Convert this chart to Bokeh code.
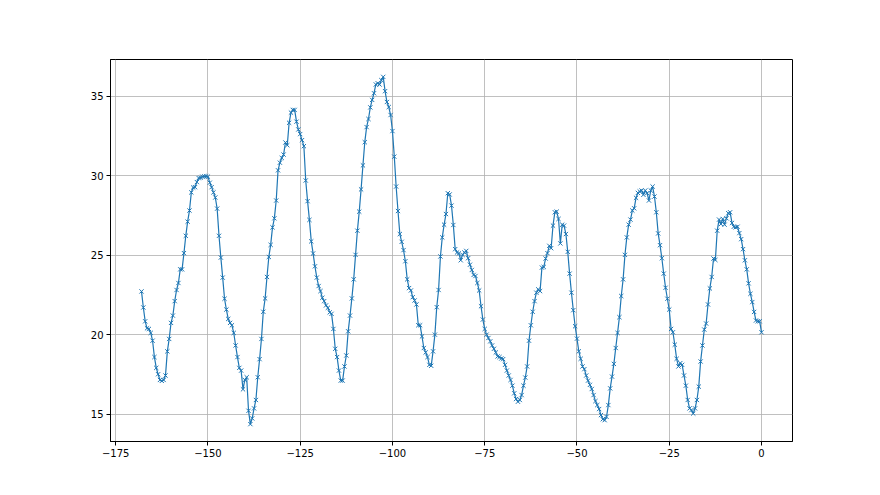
from bokeh.plotting import figure
from bokeh.models import FixedTicker, Range1d, ColumnDataSource
from bokeh.embed import file_html
from bokeh.resources import INLINE

# x positions: time steps from -168 to 0, half-unit spacing
x_start = -168.0
x_step = 0.5

y_values = [
    # -168 ... (first trough and peak near -151)
    22.72, 21.71, 20.84, 20.40, 20.36, 20.11, 19.62, 18.59, 17.91, 17.51,
    17.15, 17.09, 17.15, 17.43, 18.95, 19.73, 20.74, 21.20, 22.11, 22.81,
    23.25, 24.11, 24.11, 25.13, 26.22, 27.11, 27.81, 28.95, 29.26, 29.28,
    29.60, 29.85, 29.87, 29.94, 29.96, 29.96, 29.94, 29.56, 29.28, 28.95,
    28.63, 27.93, 26.22, 24.85, 23.59, 22.26, 21.58, 20.99, 20.74, 20.59,
    20.11, 19.32, 18.59, 17.91, 17.74, 16.56, 17.15,
    # trough near -139, peak near -127
    17.32, 15.21, 14.37, 14.73, 15.36, 15.89, 17.32, 18.46, 19.73, 21.44,
    22.28, 23.63, 24.89, 25.65, 26.75, 27.32, 28.44, 30.34, 30.82, 31.12,
    31.33, 32.09, 31.92, 33.33, 33.97, 34.14, 34.14, 33.40, 32.91, 32.62,
    32.24, 31.86, 29.70, 28.40, 27.22, 25.87, 25.11, 24.30, 23.59, 23.06,
    22.74, 22.32, 22.11, 21.84, 21.69, 21.40, 21.31, 20.36, 19.11, 18.59,
    17.74, 17.11, 17.11, 18.00, 18.69, 20.21,
    # peak near -103, secondary peak near -85
    21.20, 22.28, 23.48, 25.02, 26.54, 27.74, 29.14, 30.65, 32.11, 33.06,
    33.57, 34.30, 34.77, 35.19, 35.74, 35.82, 35.74, 36.01, 36.22, 35.32,
    34.64, 34.32, 33.82, 32.81, 31.20, 29.32, 27.78, 26.33, 25.84, 25.32,
    24.62, 23.48, 22.93, 22.78, 22.36, 22.15, 21.90, 20.59, 20.59, 19.89,
    19.16, 18.88, 18.59, 18.10, 18.04, 18.95, 20.00, 21.73, 22.81, 24.92,
    26.12, 26.92, 27.59, 28.90, 28.82, 28.12, 26.90, 25.38,
    # shoulder, trough near -66, rise to -55
    25.17, 25.11, 24.68, 25.02, 25.17, 25.27, 24.81, 24.40, 24.07, 23.76,
    23.69, 23.25, 22.78, 21.79, 20.95, 20.36, 20.00, 19.79, 19.58, 19.32,
    19.11, 18.88, 18.63, 18.59, 18.50, 18.46, 18.10, 17.74, 17.43, 17.15,
    16.79, 16.31, 15.95, 15.78, 15.89, 16.20, 16.79, 17.30, 18.00, 19.62,
    20.59, 21.44, 22.11, 22.64, 22.85, 22.74, 24.22, 24.26, 24.79, 25.13,
    25.59, 25.44, 26.86, 27.70, 27.74, 27.28,
    # trough near -42, plateau near -30
    25.74, 26.92, 26.86, 26.33, 25.21, 23.84, 22.64, 21.54, 20.53, 19.75,
    18.95, 18.48, 18.00, 17.83, 17.43, 17.11, 16.84, 16.58, 16.20, 15.82,
    15.57, 15.32, 14.94, 14.68, 14.62, 14.83, 15.57, 16.62, 17.36, 18.16,
    19.16, 20.11, 21.10, 22.43, 23.48, 25.02, 26.12, 26.92, 27.24, 27.81,
    27.95, 28.61, 28.92, 29.01, 29.07, 28.80, 29.07, 28.90, 28.44, 29.07,
    29.32, 28.69, 27.70, 26.37, 25.63, 24.81, 23.84,
    # trough near -18, peak near -8, end at 0
    22.95, 22.26, 21.58, 20.36, 20.15, 19.37, 18.48, 18.00, 18.21, 18.10,
    17.43, 16.79, 15.89, 15.36, 15.25, 15.04, 15.36, 15.89, 16.73, 18.31,
    19.32, 20.32, 20.70, 21.90, 22.91, 23.63, 24.79, 24.70, 26.54, 27.24,
    26.96, 27.28, 26.92, 27.32, 27.64, 27.70, 27.03, 26.79, 26.75, 26.79,
    26.39, 26.01, 25.38, 24.68, 24.11, 23.23, 22.57, 22.05, 21.43, 20.89,
    20.84, 20.84, 20.15,
]

x_values = [x_start + x_step * i for i in range(len(y_values))]

x_ticks = [-175, -150, -125, -100, -75, -50, -25, 0]
x_tick_labels = ["\u2212175", "\u2212150", "\u2212125", "\u2212100", "\u221275", "\u221250", "\u221225", "0"]
y_ticks = [15, 20, 25, 30, 35]
y_tick_labels = ["15", "20", "25", "30", "35"]

BLUE = "#1f77b4"

src = ColumnDataSource(data=dict(x=x_values, y=y_values))

xmin, xmax = min(x_values), max(x_values)
ymin, ymax = min(y_values), max(y_values)
xpad = (xmax - xmin) * 0.05
ypad = (ymax - ymin) * 0.05

p = figure(
    width=864, height=479,
    output_backend="svg", toolbar_location=None,
    x_range=Range1d(xmin - xpad, xmax + xpad),
    y_range=Range1d(ymin - ypad, ymax + ypad),
    min_border_left=110, min_border_right=72,
    min_border_top=59, min_border_bottom=38,
)
p.background_fill_color = "white"
p.border_fill_color = "white"
p.outline_line_color = "black"
p.outline_line_width = 1

p.line("x", "y", source=src, line_color=BLUE, line_width=1.2)
p.scatter("x", "y", source=src, marker="x", size=6, line_color=BLUE, line_width=1)

p.xaxis.ticker = FixedTicker(ticks=x_ticks)
p.yaxis.ticker = FixedTicker(ticks=y_ticks)
p.xaxis.major_label_overrides = {t: l for t, l in zip(x_ticks, x_tick_labels)}
p.yaxis.major_label_overrides = {t: l for t, l in zip(y_ticks, y_tick_labels)}

for ax in (p.xaxis, p.yaxis):
    ax.axis_line_color = "black"
    ax.axis_line_width = 1
    ax.major_tick_line_color = "black"
    ax.major_tick_out = 4
    ax.major_tick_in = 0
    ax.minor_tick_line_color = None
    ax.major_label_text_font = "DejaVu Sans"
    ax.major_label_text_font_size = "10px"
    ax.major_label_text_color = "black"
    ax.major_label_standoff = 3

p.xgrid.ticker = FixedTicker(ticks=x_ticks)
p.ygrid.ticker = FixedTicker(ticks=y_ticks)
p.grid.grid_line_color = "#b0b0b0"
p.grid.grid_line_width = 0.8

open("out.html", "w").write(file_html(p, INLINE))
